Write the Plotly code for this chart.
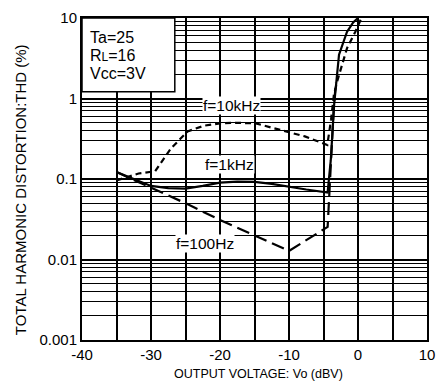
import plotly.graph_objects as go

# ---- data ----
x_10k = [-35, -31.8, -29.4, -27.1, -24.7, -22.3, -20, -17.6, -14.8, -11, -7.7, -4.45,
         -3.9, -3.5, -3.0, -1.6, -0.4, 0.5]
y_10k = [0.096, 0.117, 0.125, 0.24, 0.39, 0.46, 0.49, 0.50, 0.49, 0.40, 0.338, 0.265,
         0.55, 1.1, 1.65, 4.2, 6.7, 10]

x_1k = [-35, -30, -27.5, -25, -22.5, -20, -17.5, -15, -12.5, -10, -7.5, -4.4,
        -3.95, -3.45, -2.75, -1.6, -0.7, 0.0]
y_1k = [0.122, 0.082, 0.077, 0.076, 0.082, 0.090, 0.093, 0.092, 0.087, 0.080, 0.074, 0.068,
        0.17, 0.86, 3.5, 6.7, 8.8, 10]

x_100 = [-35, -30, -25, -20, -15, -10, -4.4, -4.2, -3.9, -3.5, -3.2]
y_100 = [0.122, 0.079, 0.050, 0.031, 0.020, 0.0128, 0.0254, 0.06, 0.17, 0.8, 1.6]

x_ticks = [-40, -35, -30, -25, -20, -15, -10, -5, 0, 5, 10]
x_ticktext = ["-40", "", "-30", "", "-20", "", "-10", "", "0", "", "10"]
y_ticks = [0.001, 0.01, 0.1, 1, 10]
y_ticktext = ["0.001", "0.01", "0.1", "1", "10"]

cond_lines = ["Ta=25", "R<span style='font-size:12px'>L</span>=16", "Vcc=3V"]
curve_labels = [("f=10kHz", -18.3, 0.817), ("f=1kHz", -18.6, 0.151), ("f=100Hz", -22.15, 0.016)]

FONT = "Liberation Sans, Arial, sans-serif"

fig = go.Figure()
fig.add_trace(go.Scatter(x=x_10k, y=y_10k, mode="lines",
                         line=dict(color="black", width=2.2, dash="6px,4px")))
fig.add_trace(go.Scatter(x=x_100, y=y_100, mode="lines",
                         line=dict(color="black", width=2.2, dash="13px,6px")))
fig.add_trace(go.Scatter(x=x_1k, y=y_1k, mode="lines",
                         line=dict(color="black", width=2.2)))

# condition box
fig.add_shape(type="rect", xref="x domain", yref="y domain",
              x0=0, x1=0.269, y0=0.771, y1=1.0,
              fillcolor="white", line=dict(color="black", width=1.5), layer="above")

line_y = [0.939, 0.884, 0.828]
for txt, yy in zip(cond_lines, line_y):
    fig.add_annotation(xref="x domain", yref="y domain", x=0.017, y=yy,
                       xanchor="left", yanchor="middle", text=txt, showarrow=False,
                       font=dict(family=FONT, size=16, color="black"))

import math
for txt, xx, yy in curve_labels:
    fig.add_annotation(x=xx, y=math.log10(yy), text=txt, showarrow=False,
                       bgcolor="white", borderpad=0,
                       font=dict(family=FONT, size=15.5, color="black"))

# axis titles
fig.add_annotation(xref="x domain", yref="y domain", x=0.511, y=-0.107,
                   text="OUTPUT VOLTAGE: Vo (dBV)", showarrow=False,
                   xanchor="center", yanchor="middle",
                   font=dict(family=FONT, size=12.5, color="black"))
fig.add_annotation(xref="x domain", yref="y domain", x=-0.176, y=0.466,
                   text="TOTAL HARMONIC DISTORTION:THD (%)", showarrow=False,
                   textangle=-90, xanchor="center", yanchor="middle",
                   font=dict(family=FONT, size=15, color="black"))

fig.update_layout(
    width=444, height=385,
    margin=dict(l=82, r=9, t=12, b=45),
    paper_bgcolor="white", plot_bgcolor="white",
    showlegend=False,
    font=dict(family=FONT, size=15, color="black"),
    xaxis=dict(range=[-40, 10], tickmode="array", tickvals=x_ticks, ticktext=x_ticktext,
               showgrid=True, gridcolor="black", gridwidth=1.8,
               showline=True, linecolor="black", linewidth=2, mirror=True,
               ticks="", zeroline=False, tickfont=dict(size=15)),
    yaxis=dict(type="log", range=[-3, 1], tickmode="array", tickvals=y_ticks,
               ticktext=y_ticktext,
               showgrid=True, gridcolor="black", gridwidth=1.5,
               minor=dict(dtick="D1", showgrid=True, gridcolor="black", gridwidth=1.3,
                          ticks=""),
               showline=True, linecolor="black", linewidth=2, mirror=True,
               ticks="", zeroline=False, tickfont=dict(size=15)),
)

fig.write_html("out.html")
